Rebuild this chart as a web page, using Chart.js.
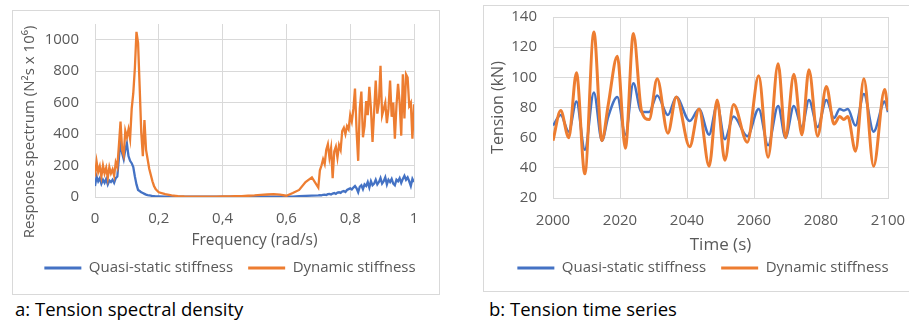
<!DOCTYPE html>
<html>
<head>
<meta charset="utf-8">
<script src="https://cdn.jsdelivr.net/npm/chart.js@4"></script>
<style>
body { margin: 0; width: 909px; height: 320px; overflow: hidden; position: relative; background: #fff; font-family: "Open Sans", sans-serif; }
.box { position: absolute; border: 1px solid #d9d9d9; background: #fff; }
.box canvas { display: block; }
#boxA { left: 12px; top: 10px; width: 426px; height: 283px; }
#boxB { left: 483px; top: 5px; width: 438px; height: 285px; }
.cap { position: absolute; font-size: 18.5px; line-height: 22px; color: #000; white-space: nowrap; }
</style>
</head>
<body>
<div class="box" id="boxA"><canvas id="spectrum" width="426" height="283"></canvas></div>
<div class="box" id="boxB"><canvas id="tension" width="438" height="285"></canvas></div>
<div class="cap" style="left:15px; top:298px;">a: Tension spectral density</div>
<div class="cap" style="left:489px; top:298px;">b: Tension time series</div>
<script>
// spectrum data \/
const freqLow = [0, 0.005, 0.01, 0.015, 0.02, 0.025, 0.03, 0.035, 0.04, 0.045, 0.05, 0.055, 0.06, 0.065, 0.07, 0.075, 0.08, 0.085, 0.09, 0.095,
    0.1, 0.105, 0.11, 0.115, 0.12, 0.125, 0.13, 0.135, 0.14, 0.145, 0.15, 0.155, 0.16, 0.165, 0.17, 0.175, 0.18, 0.185, 0.19, 0.195];
const quasiLow = [70, 130, 100, 120, 85, 110, 90, 115, 80, 105, 95, 110, 90, 120, 130, 250, 360, 280, 240, 300,
    340, 260, 230, 215, 190, 130, 80, 45, 38, 30, 25, 20, 15, 12, 10, 8, 6, 5, 4, 4];
const dynLow = [130, 225, 160, 195, 130, 200, 150, 185, 120, 190, 150, 175, 135, 220, 190, 330, 480, 300, 265, 420,
    380, 430, 370, 560, 660, 820, 1050, 980, 700, 410, 260, 490, 300, 240, 180, 140, 100, 70, 50, 40];

const freqMid = [0.2, 0.22, 0.24, 0.26, 0.28, 0.3, 0.32, 0.34, 0.36, 0.38, 0.4, 0.42, 0.44, 0.46, 0.48, 0.5, 0.52, 0.54, 0.56, 0.58, 0.6, 0.62, 0.64, 0.66, 0.68];
const quasiMid = [4, 3, 2, 2, 2, 2, 2, 2, 2, 2, 2, 2, 2, 2, 2, 3, 3, 3, 3, 3, 2, 3, 5, 7, 9];
const dynMid = [30, 18, 10, 6, 4, 3, 3, 3, 3, 3, 4, 4, 5, 6, 8, 10, 14, 16, 18, 15, 8, 25, 45, 95, 125];

const freqHigh = [0.7, 0.705, 0.71, 0.715, 0.72, 0.725, 0.73, 0.735, 0.74, 0.745, 0.75, 0.755, 0.76, 0.765, 0.77, 0.775, 0.78, 0.785, 0.79, 0.795,
    0.8, 0.805, 0.81, 0.815, 0.82, 0.825, 0.83, 0.835, 0.84, 0.845, 0.85, 0.855, 0.86, 0.865, 0.87, 0.875, 0.88, 0.885, 0.89, 0.895,
    0.9, 0.905, 0.91, 0.915, 0.92, 0.925, 0.93, 0.935, 0.94, 0.945, 0.95, 0.955, 0.96, 0.965, 0.97, 0.975, 0.98, 0.985, 0.99, 0.995, 1];
const quasiHigh = [10, 12, 10, 14, 15, 12, 18, 20, 16, 22, 25, 20, 28, 30, 26, 35, 38, 32, 45, 50,
    55, 48, 60, 70, 55, 30, 65, 75, 50, 80, 70, 95, 60, 100, 75, 85, 110, 80, 95, 120,
    85, 100, 125, 80, 110, 95, 115, 85, 75, 110, 100, 120, 90, 115, 135, 110, 125, 100, 70, 115, 95];
const dynHigh = [60, 170, 200, 240, 210, 300, 335, 250, 310, 120, 290, 320, 250, 330, 300, 420, 440, 400, 450, 430,
    520, 480, 560, 690, 420, 230, 560, 670, 380, 450, 610, 520, 700, 560, 350, 540, 740, 530, 600, 835,
    520, 560, 600, 470, 560, 740, 510, 600, 370, 580, 720, 600, 390, 780, 500, 780, 760, 580, 600, 370, 590];

const freqTicks = ['0', '0,2', '0,4', '0,6', '0,8', '1'];
const spectrumTicks = ['0', '200', '400', '600', '800', '1000'];
// spectrum data /\

// time series data \/
const timeSteps = [2000, 2002.3, 2004.7, 2007, 2009.5, 2012.2, 2014.6, 2016.5, 2019.2, 2021.6, 2024, 2026.4, 2028.7, 2031.1, 2034.3, 2036.8, 2040.8, 2043.6, 2046.6, 2049,
    2051.3, 2053.9, 2058, 2061.4, 2064.2, 2067.2, 2069.4, 2071.9, 2074.3, 2076.4, 2079, 2081.6, 2083.9, 2085.6, 2086.8, 2088, 2090.3, 2092.8, 2095.7, 2099, 2100];
const quasiTension = [68, 75, 64, 84, 52, 90, 58, 74, 87, 62, 96, 77, 77, 88, 75, 87, 71, 79, 62, 82,
    59, 74, 61, 79, 55, 81, 60, 81, 67, 85, 67, 85, 73, 79, 78, 79, 68, 89, 64, 84, 77];
const dynTension = [58, 78, 60, 103, 36, 130, 58, 82, 114, 53, 129, 78, 72, 99, 63, 87, 54, 79, 41, 85,
    45, 82, 57, 101, 47, 109, 60, 102, 62, 105, 61, 94, 69, 74, 72, 74, 51, 99, 41, 92, 78];

const timeTicks = ['2000', '2020', '2040', '2060', '2080', '2100'];
// time series data /\

const blue = '#4472c4';
const orange = '#ed7d31';
const gray = '#595959';
const gridGray = '#d9d9d9';

function toPoints(xs, ys) {
    return xs.map((x, i) => ({ x: x, y: ys[i] }));
}

// legend shows a flat line instead of a box
function legendItems(chart) {
    let items = Chart.defaults.plugins.legend.labels.generateLabels(chart);
    items.forEach(item => {
        item.fillStyle = item.strokeStyle;
        item.lineWidth = 0;
    });
    items.sort((a, b) => a.datasetIndex - b.datasetIndex);
    return items;
}

function legendOptions() {
    return {
        position: 'bottom',
        labels: {
            color: gray,
            font: { size: 15 },
            boxWidth: 37,
            boxHeight: 3,
            padding: 15,
            generateLabels: legendItems
        }
    };
}

Chart.defaults.font.family = '"Open Sans", sans-serif';

// chart a: spectral density \/
new Chart(document.getElementById('spectrum'), {
    type: 'line',
    data: {
        datasets: [{
            label: 'Quasi-static stiffness',
            data: toPoints(freqLow.concat(freqMid, freqHigh), quasiLow.concat(quasiMid, quasiHigh)),
            borderColor: blue,
            backgroundColor: blue,
            borderWidth: 2.3,
            pointRadius: 0,
            tension: 0,
            order: 1
        }, {
            label: 'Dynamic stiffness',
            data: toPoints(freqLow.concat(freqMid, freqHigh), dynLow.concat(dynMid, dynHigh)),
            borderColor: orange,
            backgroundColor: orange,
            borderWidth: 2.3,
            pointRadius: 0,
            tension: 0,
            order: 0
        }]
    },
    options: {
        responsive: false,
        animation: false,
        layout: { padding: { left: 8, right: 0, top: 13, bottom: 8.5 } },
        plugins: { legend: legendOptions(), tooltip: { enabled: false } },
        scales: {
            x: {
                type: 'linear',
                min: 0,
                max: 1,
                ticks: { stepSize: 0.2, padding: 13, color: gray, font: { size: 15 }, maxRotation: 0, callback: (v, i) => freqTicks[i] },
                grid: { color: gridGray, drawTicks: false },
                border: { color: gridGray },
                title: { display: true, text: 'Frequency (rad/s)', color: gray, font: { size: 15.5, lineHeight: 1 }, padding: { top: 0, bottom: -2.5 } },
                afterFit: function(axis) {
                    axis.height = 48.5;
                    axis.paddingRight = 25;
                }
            },
            y: {
                min: 0,
                max: 1100,
                bounds: 'data',
                ticks: { stepSize: 200, padding: 16, color: gray, font: { size: 15 }, callback: (v, i) => spectrumTicks[i] },
                grid: { color: gridGray, drawTicks: false },
                border: { display: false },
                // trailing figure spaces push the rotated title a bit lower, like the original
                title: { display: true, text: 'Response spectrum (N²s x 10⁶)\u2007\u2007\u2007\u2007\u2007', color: gray, font: { size: 15, lineHeight: 1 }, padding: { top: 1, bottom: 0 } },
                // top of the axis sits above the last labelled tick, as in the original
                afterBuildTicks: function(axis) {
                    axis.ticks = axis.ticks.filter(t => t.value <= 1000);
                },
                afterFit: function(axis) {
                    axis.width = 74;
                    axis.paddingTop = 0;
                    axis.paddingBottom = 0;
                }
            }
        }
    }
});
// chart a /\

// chart b: time series \/
new Chart(document.getElementById('tension'), {
    type: 'line',
    data: {
        datasets: [{
            label: 'Quasi-static stiffness',
            data: toPoints(timeSteps, quasiTension),
            borderColor: blue,
            backgroundColor: blue,
            borderWidth: 2.5,
            pointRadius: 0,
            cubicInterpolationMode: 'monotone',
            order: 1
        }, {
            label: 'Dynamic stiffness',
            data: toPoints(timeSteps, dynTension),
            borderColor: orange,
            backgroundColor: orange,
            borderWidth: 3,
            pointRadius: 0,
            cubicInterpolationMode: 'monotone',
            order: 0
        }]
    },
    options: {
        responsive: false,
        animation: false,
        layout: { padding: { left: 0, right: 0, top: 11, bottom: 5.5 } },
        plugins: { legend: legendOptions(), tooltip: { enabled: false } },
        scales: {
            x: {
                type: 'linear',
                min: 2000,
                max: 2100,
                ticks: { stepSize: 20, padding: 14, color: gray, font: { size: 15 }, maxRotation: 0, callback: (v, i) => timeTicks[i] },
                grid: { color: gridGray, drawTicks: false },
                border: { color: gridGray },
                title: { display: true, text: 'Time (s)', color: gray, font: { size: 17, lineHeight: 1 }, padding: { top: 0, bottom: -8 } },
                afterFit: function(axis) {
                    axis.height = 47.5;
                    axis.paddingRight = 34;
                }
            },
            y: {
                min: 20,
                max: 140,
                ticks: { stepSize: 20, padding: 16, color: gray, font: { size: 15 } },
                grid: { color: gridGray, drawTicks: false },
                border: { display: false },
                title: { display: true, text: 'Tension (kN)', color: gray, font: { size: 16, lineHeight: 1 }, padding: { top: 6, bottom: 0 } },
                afterFit: function(axis) {
                    axis.width = 69;
                    axis.paddingTop = 0;
                    axis.paddingBottom = 0;
                }
            }
        }
    }
});
// chart b /\
</script>
</body>
</html>
